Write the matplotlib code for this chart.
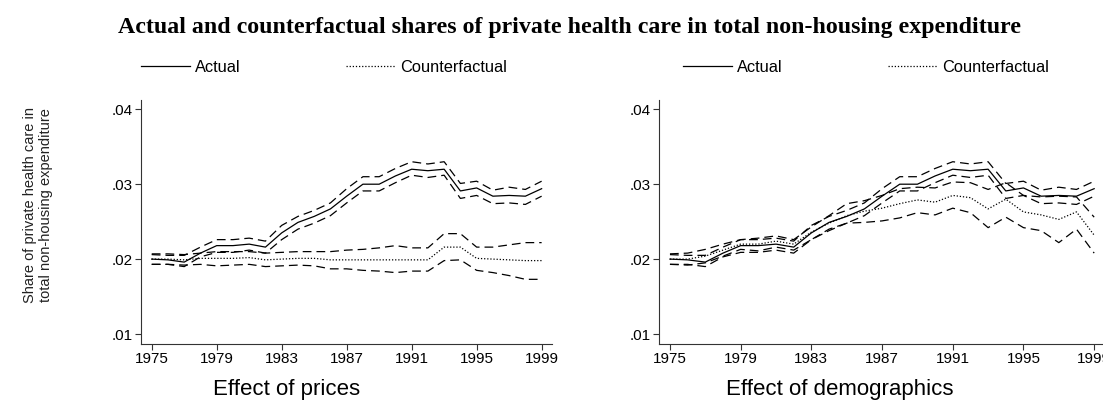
import matplotlib
matplotlib.use("Agg")
import matplotlib.pyplot as plt
from matplotlib.lines import Line2D

years = list(range(1975, 2000))

actual = [0.0200, 0.0199, 0.0196, 0.0208, 0.0218, 0.0218, 0.0220, 0.0216, 0.0235, 0.0249,
          0.0257, 0.0267, 0.0284, 0.0300, 0.0300, 0.0311, 0.0320, 0.0318, 0.0320, 0.0291,
          0.0295, 0.0284, 0.0285, 0.0284, 0.0294]
actual_hi = [0.0206, 0.0205, 0.0205, 0.0216, 0.0226, 0.0226, 0.0228, 0.0224, 0.0245, 0.0257,
             0.0265, 0.0275, 0.0294, 0.0310, 0.0310, 0.0321, 0.0330, 0.0327, 0.0330, 0.0301,
             0.0304, 0.0292, 0.0296, 0.0293, 0.0304]
actual_lo = [0.0193, 0.0193, 0.0190, 0.0203, 0.0209, 0.0209, 0.0212, 0.0208, 0.0226, 0.0240,
             0.0248, 0.0258, 0.0275, 0.0291, 0.0291, 0.0302, 0.0312, 0.0309, 0.0312, 0.0281,
             0.0285, 0.0274, 0.0275, 0.0273, 0.0284]

cf_prices = [0.0200, 0.0200, 0.0199, 0.0201, 0.0201, 0.0201, 0.0202, 0.0199, 0.0200, 0.0201,
             0.0201, 0.0199, 0.0199, 0.0199, 0.0199, 0.0199, 0.0199, 0.0199, 0.0216, 0.0216,
             0.0201, 0.0200, 0.0199, 0.0198, 0.0198]
cf_prices_hi = [0.0207, 0.0207, 0.0206, 0.0208, 0.0210, 0.0210, 0.0210, 0.0208, 0.0209, 0.0210,
                0.0210, 0.0210, 0.0212, 0.0213, 0.0215, 0.0218, 0.0215, 0.0215, 0.0234, 0.0234,
                0.0216, 0.0216, 0.0219, 0.0222, 0.0222]
cf_prices_lo = [0.0193, 0.0193, 0.0192, 0.0193, 0.0191, 0.0192, 0.0193, 0.0190, 0.0191, 0.0192,
                0.0191, 0.0187, 0.0187, 0.0185, 0.0184, 0.0182, 0.0184, 0.0184, 0.0198, 0.0199,
                0.0185, 0.0182, 0.0178, 0.0173, 0.0173]

cf_demo = [0.0200, 0.0200, 0.0204, 0.0212, 0.0220, 0.0220, 0.0224, 0.0220, 0.0236, 0.0248,
           0.0258, 0.0264, 0.0268, 0.0274, 0.0279, 0.0276, 0.0285, 0.0282, 0.0267, 0.0280,
           0.0263, 0.0259, 0.0253, 0.0263, 0.0232]
cf_demo_hi = [0.0207, 0.0208, 0.0213, 0.0220, 0.0226, 0.0228, 0.0231, 0.0226, 0.0243, 0.0258,
              0.0274, 0.0278, 0.0285, 0.0294, 0.0296, 0.0295, 0.0303, 0.0302, 0.0293, 0.0302,
              0.0285, 0.0283, 0.0284, 0.0283, 0.0256]
cf_demo_lo = [0.0193, 0.0192, 0.0195, 0.0204, 0.0213, 0.0211, 0.0216, 0.0212, 0.0226, 0.0238,
              0.0248, 0.0249, 0.0251, 0.0255, 0.0262, 0.0259, 0.0268, 0.0262, 0.0242, 0.0256,
              0.0242, 0.0238, 0.0222, 0.0240, 0.0208]

xticks = [1975, 1979, 1983, 1987, 1991, 1995, 1999]
yticks = [0.01, 0.02, 0.03, 0.04]
ytick_labels = [".01", ".02", ".03", ".04"]

title = "Actual and counterfactual shares of private health care in total non-housing expenditure"
ylabel = "Share of private health care in\ntotal non-housing expenditure"
subtitles = ["Effect of prices", "Effect of demographics"]
legend_labels = ["Actual", "Counterfactual"]

plt.rcParams['font.family'] = ['Liberation Sans', 'DejaVu Sans']

W, H = 1103, 404
fig = plt.figure(figsize=(W / 100, H / 100), dpi=100)

dash = (0, (7, 4))
dot = (0, (1, 1.5))
lw = 0.9
col = 'black'

panels = [
    dict(rect=(141 / W, 1 - 344 / H, (551.7 - 141) / W, 244 / H),
         xlim=(1974.34, 1999.62), cf=cf_prices, cf_hi=cf_prices_hi, cf_lo=cf_prices_lo,
         sub_x=287 / W, leg_x=141 / W),
    dict(rect=(659 / W, 1 - 344 / H, (1103 - 659) / W, 244 / H),
         xlim=(1974.38, 1999.5), cf=cf_demo, cf_hi=cf_demo_hi, cf_lo=cf_demo_lo,
         sub_x=840 / W, leg_x=683 / W),
]

for i, p in enumerate(panels):
    ax = fig.add_axes(p['rect'])
    ax.plot(years, actual, color=col, lw=lw, linestyle='-')
    ax.plot(years, actual_hi, color=col, lw=lw, linestyle=dash)
    ax.plot(years, actual_lo, color=col, lw=lw, linestyle=dash)
    ax.plot(years, p['cf'], color=col, lw=lw, linestyle=dot)
    ax.plot(years, p['cf_hi'], color=col, lw=lw, linestyle=dash)
    ax.plot(years, p['cf_lo'], color=col, lw=lw, linestyle=dash)
    ax.set_xlim(*p['xlim'])
    ax.set_ylim(0.008667, 0.04124)
    ax.set_xticks(xticks)
    ax.set_xticklabels([str(t) for t in xticks])
    ax.set_yticks(yticks)
    ax.set_yticklabels(ytick_labels)
    for s in ['top', 'right']:
        ax.spines[s].set_visible(False)
    for s in ['left', 'bottom']:
        ax.spines[s].set_linewidth(0.8)
        ax.spines[s].set_color('#333333')
    ax.tick_params(axis='both', direction='out', length=4, width=0.8, labelsize=11,
                   color='#333333', pad=2)
    ax.patch.set_alpha(0)
    fig.text(p['sub_x'], 0.035, subtitles[i], ha='center', va='center', fontsize=16)
    handles = [Line2D([], [], color=col, lw=lw, linestyle='-'),
               Line2D([], [], color=col, lw=lw, linestyle=dot)]
    fig.legend(handles, legend_labels, loc='center left', ncol=2,
               bbox_to_anchor=(p['leg_x'], 1 - 67 / H), frameon=False,
               fontsize=11.8, handlelength=3.0, handletextpad=0.3, columnspacing=6.4,
               borderpad=0, borderaxespad=0)

fig.text(38 / W, 1 - 205 / H, ylabel, ha='center', va='center', rotation=90,
         fontsize=10.5, linespacing=1.15, color='#222222', multialignment='center')

fig.text(0.516, 1 - 28 / H, title, ha='center', va='center', fontsize=17.2,
         fontweight='bold', family=['Liberation Serif', 'DejaVu Serif'])

fig.savefig('out.png', dpi=100)
